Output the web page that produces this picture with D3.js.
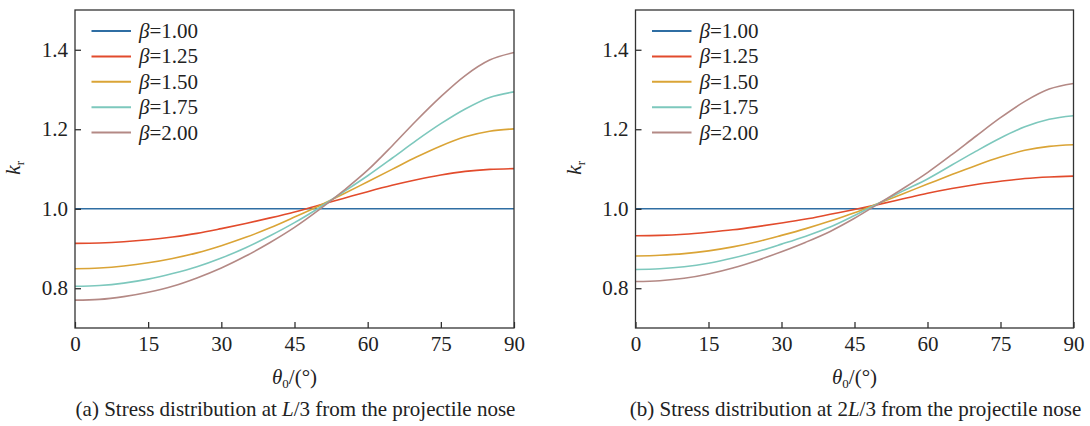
<!DOCTYPE html>
<html>
<head>
<meta charset="utf-8">
<script src="https://cdn.jsdelivr.net/npm/d3@7"></script>
<style>
  html, body { margin: 0; padding: 0; background: #fff; }
  svg { display: block; }
  text { font-family: "Liberation Serif", "Times New Roman", serif; fill: #222; }
</style>
</head>
<body>
<svg id="chart" width="1090" height="426"></svg>
<script>
// ---- data ----
const theta = [0, 5, 10, 15, 20, 25, 30, 35, 40, 45, 50, 55, 60, 65, 70, 75, 80, 85, 90];
const betaLabels = ["1.00", "1.25", "1.50", "1.75", "2.00"];
const colors = ["#2f6ea3", "#e24b2c", "#daa436", "#7dc8bd", "#b48985"];

// panel (a): L/3 from nose
const a_b100 = [1, 1, 1, 1, 1, 1, 1, 1, 1, 1, 1, 1, 1, 1, 1, 1, 1, 1, 1];
const a_b125 = [0.913, 0.914, 0.917, 0.922, 0.929, 0.938, 0.950, 0.963, 0.977, 0.992, 1.009, 1.026, 1.043, 1.059, 1.073, 1.085, 1.094, 1.099, 1.101];
const a_b150 = [0.849, 0.851, 0.856, 0.864, 0.875, 0.889, 0.907, 0.928, 0.952, 0.979, 1.007, 1.037, 1.068, 1.099, 1.130, 1.158, 1.181, 1.195, 1.201];
const a_b175 = [0.805, 0.807, 0.813, 0.823, 0.837, 0.854, 0.876, 0.902, 0.932, 0.965, 1.002, 1.042, 1.083, 1.127, 1.172, 1.214, 1.251, 1.280, 1.294];
const a_b200 = [0.770, 0.772, 0.779, 0.790, 0.805, 0.826, 0.851, 0.881, 0.915, 0.953, 0.997, 1.045, 1.097, 1.158, 1.222, 1.282, 1.335, 1.374, 1.393];

// panel (b): 2L/3 from nose
const b_b100 = [1, 1, 1, 1, 1, 1, 1, 1, 1, 1, 1, 1, 1, 1, 1, 1, 1, 1, 1];
const b_b125 = [0.932, 0.933, 0.936, 0.941, 0.947, 0.955, 0.964, 0.974, 0.986, 0.998, 1.011, 1.025, 1.039, 1.051, 1.061, 1.069, 1.076, 1.080, 1.082];
const b_b150 = [0.881, 0.883, 0.887, 0.894, 0.904, 0.917, 0.933, 0.950, 0.969, 0.990, 1.014, 1.038, 1.062, 1.086, 1.109, 1.130, 1.147, 1.157, 1.161];
const b_b175 = [0.847, 0.849, 0.854, 0.863, 0.876, 0.892, 0.911, 0.931, 0.954, 0.983, 1.014, 1.045, 1.075, 1.110, 1.145, 1.178, 1.206, 1.225, 1.234];
const b_b200 = [0.817, 0.819, 0.825, 0.836, 0.851, 0.870, 0.892, 0.916, 0.943, 0.976, 1.013, 1.051, 1.091, 1.136, 1.183, 1.229, 1.270, 1.301, 1.315];

const xTicks = [0, 15, 30, 45, 60, 75, 90];
const yTicks = [0.8, 1.0, 1.2, 1.4];

const panels = [
  { left: 75, right: 514, series: [a_b100, a_b125, a_b150, a_b175, a_b200],
    caption: [["(a) Stress distribution at ", false], ["L", true], ["/3 from the projectile nose", false]] },
  { left: 635.5, right: 1073.5, series: [b_b100, b_b125, b_b150, b_b175, b_b200],
    caption: [["(b) Stress distribution at 2", false], ["L", true], ["/3 from the projectile nose", false]] }
];

const svg = d3.select("#chart");
const plotTop = 10, plotBottom = 328;
const FS = 21;

panels.forEach(p => {
  const x = d3.scaleLinear().domain([0, 90]).range([p.left, p.right]);
  const y = d3.scaleLinear().domain([0.7, 1.5]).range([plotBottom, plotTop]);
  const g = svg.append("g");

  // curves
  const line = d3.line().x(d => x(d[0])).y(d => y(d[1])).curve(d3.curveMonotoneX);
  p.series.forEach((s, i) => {
    g.append("path")
      .datum(theta.map((t, j) => [t, s[j]]))
      .attr("d", line)
      .attr("fill", "none")
      .attr("stroke", colors[i])
      .attr("stroke-width", 1.6);
  });

  // axes with inward ticks
  const xAxis = d3.axisBottom(x).tickValues(xTicks).tickSize(-6).tickPadding(8).tickFormat(d3.format("d"));
  const yAxis = d3.axisLeft(y).tickValues(yTicks).tickSize(-6).tickPadding(7).tickFormat(d3.format(".1f"));
  const gx = g.append("g").attr("transform", `translate(0,${plotBottom})`).call(xAxis);
  const gy = g.append("g").attr("transform", `translate(${p.left},0)`).call(yAxis);
  [gx, gy].forEach(ax => {
    ax.select(".domain").remove();
    ax.selectAll(".tick line").attr("stroke", "#222").attr("stroke-width", 1.2);
    ax.selectAll(".tick text").attr("font-size", FS).attr("fill", "#222")
      .style("font-family", '"Liberation Serif", "Times New Roman", serif');
  });

  // frame
  g.append("rect")
    .attr("x", p.left).attr("y", plotTop)
    .attr("width", p.right - p.left).attr("height", plotBottom - plotTop)
    .attr("fill", "none").attr("stroke", "#333").attr("stroke-width", 1.3);

  // legend
  const lg = g.append("g");
  betaLabels.forEach((b, i) => {
    const cy = 31 + i * 25.4;
    lg.append("line")
      .attr("x1", p.left + 16.5).attr("x2", p.left + 56)
      .attr("y1", cy).attr("y2", cy)
      .attr("stroke", colors[i]).attr("stroke-width", 2);
    const t = lg.append("text")
      .attr("x", p.left + 64).attr("y", cy + 7)
      .attr("font-size", FS);
    t.append("tspan").attr("font-style", "italic").text("β");
    t.append("tspan").text("=" + b);
  });

  // y label k_r
  const cxl = p.left - 55;
  const yl = g.append("text")
    .attr("transform", `translate(${cxl},168) rotate(-90)`)
    .attr("text-anchor", "middle")
    .attr("font-size", FS + 1);
  yl.append("tspan").attr("font-style", "italic").text("k");
  yl.append("tspan").attr("font-size", FS * 0.62).attr("dy", 4).text("r");

  // x label θ0/(°)
  const xm = (p.left + p.right) / 2;
  const xl = g.append("text")
    .attr("x", xm).attr("y", 384)
    .attr("text-anchor", "middle")
    .attr("font-size", FS);
  xl.append("tspan").attr("font-style", "italic").text("θ");
  xl.append("tspan").attr("font-size", FS * 0.62).attr("dy", 4).text("0");
  xl.append("tspan").attr("dy", -4).text("/(°)");

  // caption
  const cap = g.append("text")
    .attr("x", xm + 1).attr("y", 416)
    .attr("text-anchor", "middle")
    .attr("font-size", 21);
  p.caption.forEach(([s, it]) => {
    const ts = cap.append("tspan").text(s);
    if (it) ts.attr("font-style", "italic");
  });
});
</script>
</body>
</html>
